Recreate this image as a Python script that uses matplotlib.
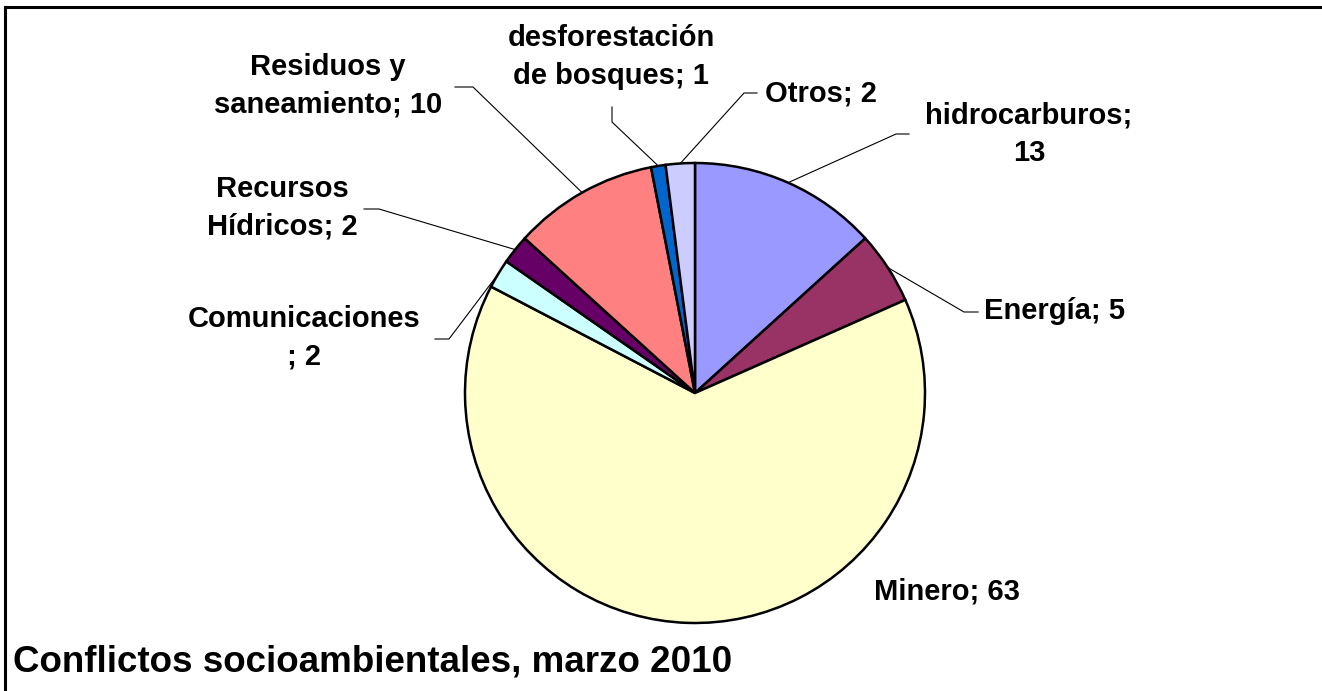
import numpy as np
import matplotlib
matplotlib.use("Agg")
import matplotlib.pyplot as plt
from matplotlib.lines import Line2D

plt.rcParams['font.family'] = ['Liberation Sans', 'DejaVu Sans']

# data, clockwise from 12 o'clock
categories = ["hidrocarburos", "Energía", "Minero", "Comunicaciones",
              "Recursos Hídricos", "Residuos y saneamiento",
              "desforestación de bosques", "Otros"]
values = [13, 5, 63, 2, 2, 10, 1, 2]
label_texts = ["hidrocarburos;\n13", "Energía; 5", "Minero; 63",
               "Comunicaciones\n; 2", "Recursos\nHídricos; 2",
               "Residuos y\nsaneamiento; 10", "desforestación\nde bosques; 1",
               "Otros; 2"]
colors = ["#9999FF", "#993366", "#FFFFCC", "#CCFFFF",
          "#660066", "#FF8080", "#0066CC", "#CCCCFF"]

W, H = 1322, 691
CX, CY, R = 695, 393, 230   # pie centre / radius in pixels (from top)

# label layout: text centre, alignment, leader elbow and end (pixels from top)
label_pos = [(1029, 134, "center"), (984, 311, "left"), (947, 592, "center"),
             (304, 338, "center"), (282, 208, "center"), (328, 86, "center"),
             (611, 57, "center"), (765, 93, "left")]
leaders = [((896, 134), (909, 134)), ((964, 312), (978, 312)), None,
           ((449, 339), (435, 339)), ((379, 209), (364, 209)),
           ((473, 87), (455, 87)), ((612, 122), (612, 107)),
           ((744, 93), (757, 93))]


def fy(y):
    return H - y


fig = plt.figure(figsize=(W / 100, H / 100), dpi=100)
ax = fig.add_axes([0, 0, 1, 1])

wedges, _ = ax.pie(values, colors=colors, startangle=90, counterclock=False,
                   center=(CX, fy(CY)), radius=R, frame=True,
                   wedgeprops=dict(edgecolor="black", linewidth=1.8))
ax.set_xlim(0, W)
ax.set_ylim(0, H)
ax.set_aspect("equal")
ax.axis("off")

for w, txt, (tx, ty, ha), ld in zip(wedges, label_texts, label_pos, leaders):
    ax.text(tx, fy(ty), txt, ha=ha, va="center", fontsize=21,
            fontweight="bold", linespacing=1.42)
    if ld is None:
        continue
    mid = np.deg2rad((w.theta1 + w.theta2) / 2)
    x0 = CX + R * np.cos(mid)
    y0 = fy(CY) + R * np.sin(mid)
    (ex, ey), (lx, ly) = ld
    ax.plot([x0, ex, lx], [y0, fy(ey), fy(ly)], color="black", lw=0.8)

ax.text(13, fy(662), "Conflictos socioambientales, marzo 2010", ha="left",
        va="center", fontsize=26.5, fontweight="bold")

# chart-area frame (cut off at right and bottom)
fig.add_artist(Line2D([5 / W, 1], [1 - 7 / H, 1 - 7 / H], color="black",
                      lw=2.2, transform=fig.transFigure))
fig.add_artist(Line2D([5 / W, 5 / W], [0, 1 - 7 / H], color="black",
                      lw=2.2, transform=fig.transFigure))

fig.savefig("out.png", dpi=100)
